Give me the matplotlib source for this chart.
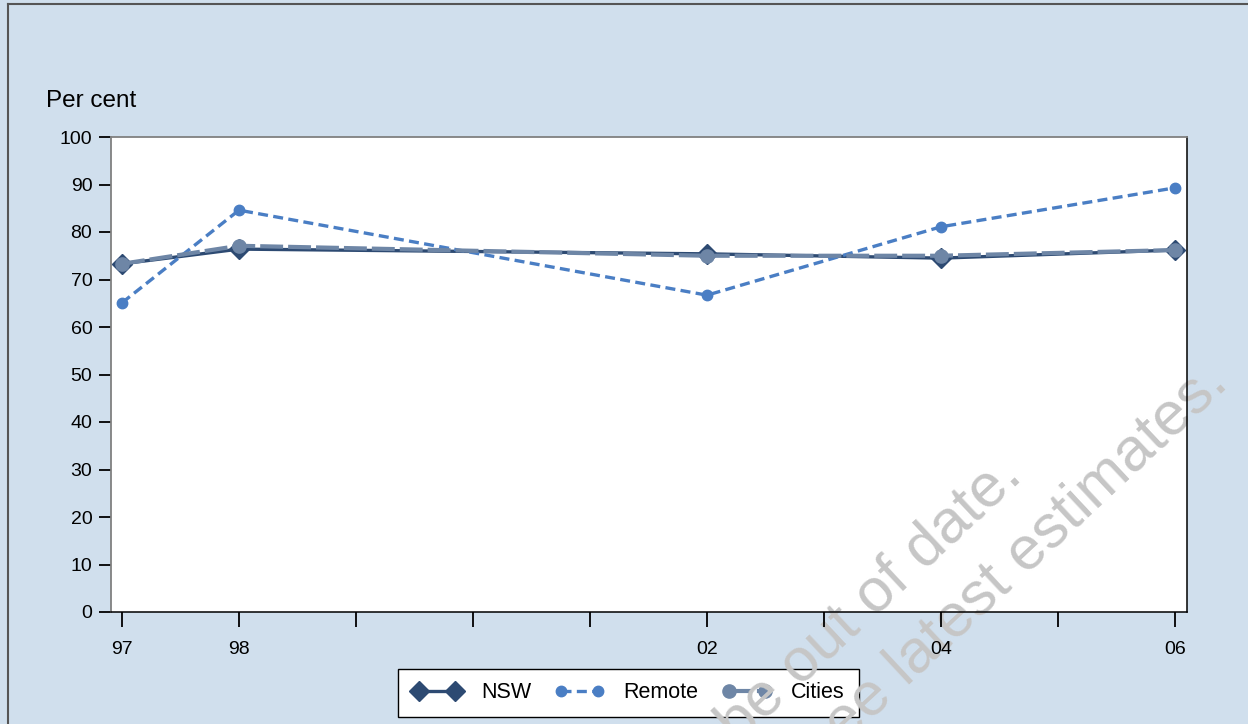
import matplotlib
matplotlib.use("Agg")
import matplotlib.pyplot as plt
from matplotlib.lines import Line2D

plt.rcParams['font.family'] = ['Liberation Sans', 'DejaVu Sans']

# data
years = [1997, 1998, 2002, 2004, 2006]
nsw = [73.3, 76.4, 75.4, 74.5, 76.2]
remote = [65.1, 84.6, 66.7, 81.1, 89.3]
cities = [73.3, 77.1, 75.0, 75.0, 76.2]

tick_years = list(range(1997, 2007))
tick_labels = ['97', '98', '', '', '', '02', '', '04', '', '06']

bg = '#d0dfed'

fig = plt.figure(figsize=(12.48, 7.24), dpi=100, facecolor=bg)
ax = fig.add_axes([111/1248, 1 - 612/724, (1187-111)/1248, (612-137)/724])
ax.set_facecolor('white')

ax.plot(years, nsw, color='#2d4a72', lw=2.4, marker='D', ms=10.5,
        mfc='#2d4a72', mec='#2d4a72', label='NSW', zorder=3)
ax.plot(years, remote, color='#4a7ec4', lw=2.4, dashes=(3, 1.6), marker='o', ms=7.5,
        mfc='#4a7ec4', mec='#4a7ec4', label='Remote', zorder=4)
ax.plot(years, cities, color='#6e86a6', lw=3, dashes=(5.5, 1.2), marker='o', ms=9.5,
        mfc='#6e86a6', mec='#6e86a6', label='Cities', zorder=5)

ax.set_xlim(1997 - 11/117, 2006 + 12/117)
ax.set_ylim(0, 100)
ax.set_yticks(range(0, 101, 10))
ax.set_xticks(tick_years)
ax.set_xticklabels(tick_labels)

ax.tick_params(axis='y', direction='out', length=8.5, width=1.3, pad=5, labelsize=14)
ax.tick_params(axis='x', direction='out', length=10.5, width=1.3, pad=10.5, labelsize=14)
ax.xaxis.set_zorder(2)

for s in ['left', 'top']:
    ax.spines[s].set_color('#808080')
    ax.spines[s].set_linewidth(1.3)
for s in ['right', 'bottom']:
    ax.spines[s].set_color('black')
    ax.spines[s].set_linewidth(1.1)

fig.text(46/1248, 1 - 101/724, 'Per cent', fontsize=17.5, ha='left', va='center')

leg = ax.legend(loc='center', bbox_to_anchor=(628.5/1248, 1 - 693/724),
                bbox_transform=fig.transFigure, ncol=3, numpoints=2,
                fontsize=15.5, frameon=True, fancybox=False, framealpha=1,
                handlelength=2.3, columnspacing=1.1, handletextpad=0.9,
                borderpad=0.65)
leg.get_frame().set_edgecolor('black')
leg.get_frame().set_linewidth(1.0)
leg.set_zorder(1)

# figure frame (top and left edges)
fig.add_artist(Line2D([8/1248, 8/1248], [0, 1 - 3.5/724], transform=fig.transFigure,
                      color='#555555', lw=1.5))
fig.add_artist(Line2D([8/1248, 1], [1 - 3.5/724, 1 - 3.5/724], transform=fig.transFigure,
                      color='#555555', lw=1.5))

# watermark: over the plot area and legend, under the tick labels
ax.text(1024/1248, 1 - 478/724, 'This chart may be out of date.', fontsize=44,
        color='#c6c6c6', rotation=43, rotation_mode='anchor', ha='right',
        va='baseline', transform=fig.transFigure, clip_on=False, zorder=1.5)
ax.text(1230/1248, 1 - 385/724, 'Please see latest estimates.', fontsize=44,
        color='#c6c6c6', rotation=43, rotation_mode='anchor', ha='right',
        va='baseline', transform=fig.transFigure, clip_on=False, zorder=1.5)

fig.savefig('out.png', dpi=100, facecolor=bg)
